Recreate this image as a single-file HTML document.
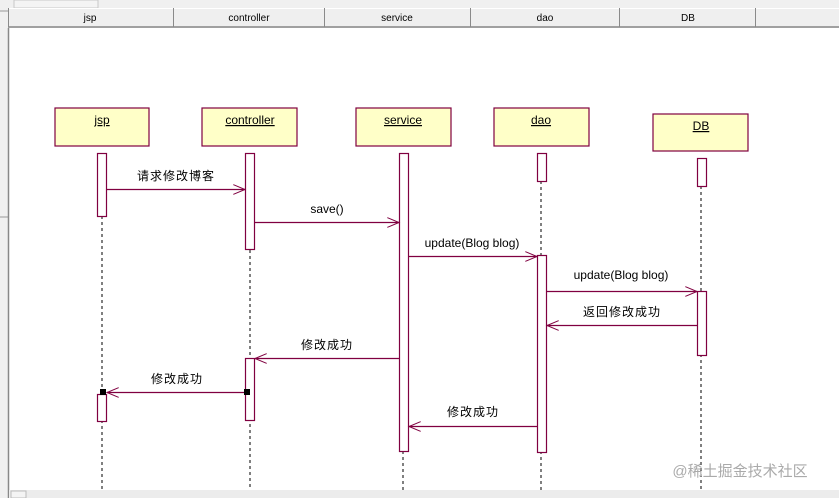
<!DOCTYPE html>
<html><head><meta charset="utf-8"><style>
html,body{margin:0;padding:0;background:#f0f0f0;}
svg{display:block;}
text{font-family:"Liberation Sans","Noto Sans CJK SC",sans-serif;font-size:12px;fill:#000;}
</style></head><body>
<svg width="839" height="498" xmlns="http://www.w3.org/2000/svg">
<defs>
<marker id="a" markerWidth="14" markerHeight="10" refX="12" refY="5" orient="auto" markerUnits="userSpaceOnUse">
<path d="M0,0 L12,5 L0,10" fill="none" stroke="#800040" stroke-width="1"/>
</marker>
</defs>
<rect width="839" height="498" fill="#f0f0f0"/>
<!-- top tab strip -->
<rect x="14" y="0" width="84" height="8" fill="#f4f4f4" stroke="#c8c8c8"/>
<!-- header -->
<rect x="8" y="8" width="831" height="19" fill="#efefef"/>
<line x1="8" y1="8.5" x2="839" y2="8.5" stroke="#fff"/>
<line x1="8" y1="27" x2="839" y2="27" stroke="#a0a0a0" stroke-width="2"/>
<g stroke="#8a8a8a"><line x1="8.5" y1="8" x2="8.5" y2="27"/><line x1="173.5" y1="8" x2="173.5" y2="27"/><line x1="324.5" y1="8" x2="324.5" y2="27"/><line x1="470.5" y1="8" x2="470.5" y2="27"/><line x1="619.5" y1="8" x2="619.5" y2="27"/><line x1="755.5" y1="8" x2="755.5" y2="27"/></g>
<g style="font-size:10px" text-anchor="middle"><text x="90" y="21" style="font-size:10px">jsp</text><text x="249" y="21" style="font-size:10px">controller</text><text x="397" y="21" style="font-size:10px">service</text><text x="545" y="21" style="font-size:10px">dao</text><text x="688" y="21" style="font-size:10px">DB</text></g>
<!-- left strip -->
<line x1="0" y1="11" x2="8" y2="11" stroke="#999"/>
<line x1="0" y1="217" x2="8" y2="217" stroke="#999"/>
<!-- canvas -->
<rect x="9" y="28" width="830" height="462" fill="#fff"/>
<line x1="8.5" y1="28" x2="8.5" y2="498" stroke="#888" stroke-width="1.5"/>
<rect x="9" y="490" width="830" height="8" fill="#ececec"/>
<rect x="11" y="491" width="15" height="7" fill="#f4f4f4" stroke="#bbb"/>
<!-- lifelines -->
<g stroke="#000" stroke-dasharray="3,3"><line x1="102" y1="216" x2="102" y2="490"/><line x1="250" y1="250" x2="250" y2="490"/><line x1="403" y1="451" x2="403" y2="490"/><line x1="541" y1="181" x2="541" y2="490"/><line x1="701" y1="186" x2="701" y2="490"/></g>
<!-- boxes -->
<g fill="#ffffc8" stroke="#800040" stroke-width="1.2">
<rect x="55" y="108" width="94" height="38"/><rect x="202" y="108" width="95" height="38"/><rect x="356" y="108" width="95" height="38"/><rect x="494" y="108" width="95" height="38"/><rect x="653" y="114" width="95" height="37"/>
</g>
<g text-anchor="middle" text-decoration="underline"><text x="102" y="124">jsp</text><text x="250" y="124">controller</text><text x="403" y="124">service</text><text x="541" y="124">dao</text><text x="701" y="130">DB</text></g>
<!-- activations -->
<g fill="#fff" stroke="#800040" stroke-width="1.2">
<rect x="97.5" y="153.5" width="9" height="63"/><rect x="97.5" y="394.5" width="9" height="27"/>
<rect x="245.5" y="153.5" width="9" height="96"/><rect x="245.5" y="358.5" width="9" height="62"/>
<rect x="399.5" y="153.5" width="9" height="298"/>
<rect x="537.5" y="153.5" width="9" height="28"/><rect x="537.5" y="255.5" width="9" height="197"/>
<rect x="697.5" y="158.5" width="9" height="28"/><rect x="697.5" y="291.5" width="9" height="64"/>
</g>
<!-- messages -->
<g stroke="#800040" stroke-width="1.2" marker-end="url(#a)">
<line x1="107" y1="189.5" x2="245" y2="189.5"/>
<line x1="255" y1="222.5" x2="399" y2="222.5"/>
<line x1="409" y1="256.5" x2="537" y2="256.5"/>
<line x1="547" y1="291.5" x2="697" y2="291.5"/>
<line x1="697" y1="325.5" x2="547" y2="325.5"/>
<line x1="399" y1="358.5" x2="255" y2="358.5"/>
<line x1="245" y1="392.5" x2="107" y2="392.5"/>
<line x1="537" y1="426.5" x2="409" y2="426.5"/>
</g>
<rect x="100" y="389" width="6" height="6" fill="#000"/>
<rect x="244" y="389" width="6" height="6" fill="#000"/>
<g text-anchor="middle">
<text x="176" y="180" style="letter-spacing:1px">请求修改博客</text>
<text x="327" y="213">save()</text>
<text x="472" y="247">update(Blog blog)</text>
<text x="621" y="279">update(Blog blog)</text>
<text x="622" y="316" style="letter-spacing:1px">返回修改成功</text>
<text x="327" y="349" style="letter-spacing:1px">修改成功</text>
<text x="177" y="383" style="letter-spacing:1px">修改成功</text>
<text x="473" y="416" style="letter-spacing:1px">修改成功</text>
</g>
<text x="740" y="476" text-anchor="middle" style="font-size:15px;fill:#aaa">@稀土掘金技术社区</text>
</svg>
</body></html>
